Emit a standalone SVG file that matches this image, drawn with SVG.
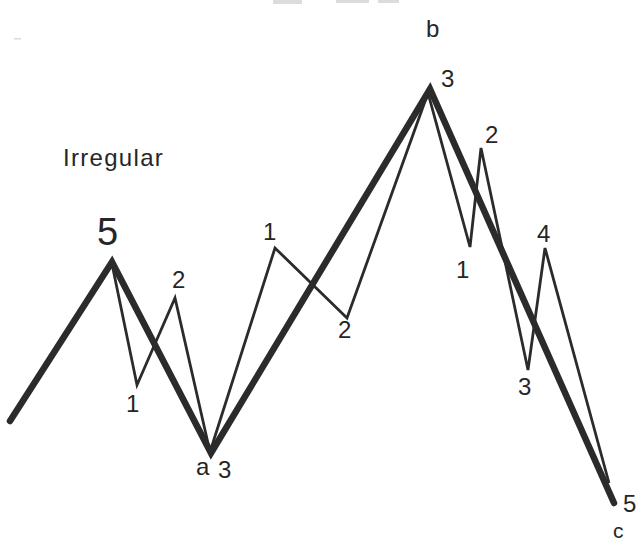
<svg xmlns="http://www.w3.org/2000/svg" width="638" height="541" viewBox="0 0 638 541">
<style>
.thick{fill:none;stroke:#2b2b2b;stroke-width:6.5;stroke-linejoin:miter;stroke-linecap:round}
.thin{fill:none;stroke:#2b2b2b;stroke-width:2.8;stroke-linejoin:miter}
text{font-family:"Liberation Sans",Arial,sans-serif;fill:#262626}
.lbl{font-size:24px}
.art{fill:#dcdcdc}
</style>
<rect width="638" height="541" fill="#fff"/>
<g id="artifacts">
<rect class="art" x="273" y="0" width="29" height="4"/>
<rect class="art" x="336" y="0" width="33" height="3"/>
<rect class="art" x="378" y="0" width="21" height="3"/>
<rect class="art" x="14" y="38" width="7" height="1.5"/>
</g>
<g id="connectors">
<polyline class="thick" points="10,421 112,262 211,453 430,89 614,503"/>
<polyline class="thin" points="112,264 137,385 175,298 210,452 275,248 347,318 428,93 470,247 481,148 528,370 545,248 609,483"/>
</g>
<g id="labels">
<text x="63" y="166" font-size="24" letter-spacing="1.3">Irregular</text>
<text x="97" y="245" font-size="38">5</text>
<text class="lbl" x="126" y="412">1</text>
<text class="lbl" x="172" y="288">2</text>
<text class="lbl" x="196" y="475">a</text>
<text class="lbl" x="218" y="478">3</text>
<text class="lbl" x="263" y="240">1</text>
<text class="lbl" x="338" y="338">2</text>
<text class="lbl" x="426" y="37">b</text>
<text class="lbl" x="441" y="87">3</text>
<text class="lbl" x="456" y="278">1</text>
<text class="lbl" x="485" y="143">2</text>
<text class="lbl" x="537" y="242">4</text>
<text class="lbl" x="518" y="395">3</text>
<text class="lbl" x="623" y="512">5</text>
<text x="613" y="538" font-size="21">c</text>
</g>
</svg>
